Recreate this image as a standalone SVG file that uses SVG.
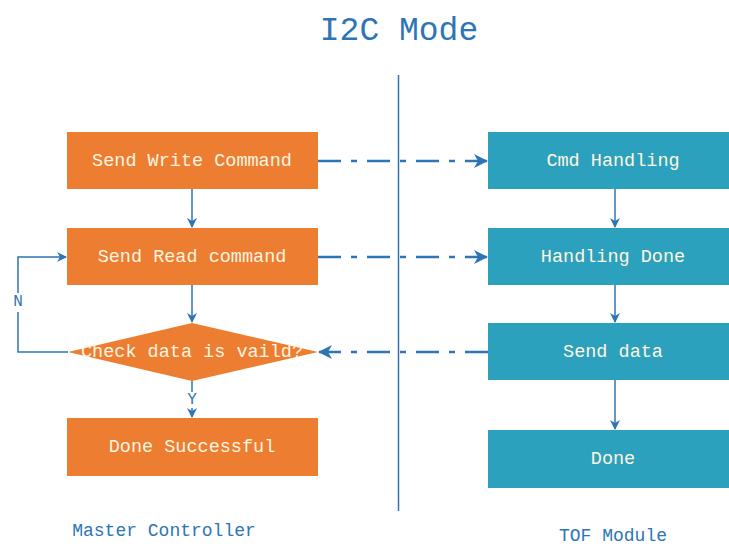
<svg xmlns="http://www.w3.org/2000/svg" width="729" height="546" viewBox="0 0 729 546">
<style>
.o{fill:#ED7D31}
.t{fill:#2CA1BE}
.lbl{font-family:"Liberation Mono","DejaVu Sans Mono",monospace;font-size:18.5px;fill:#FFF5E0;text-anchor:middle;dominant-baseline:central}
.ln{stroke:#2E75B6;stroke-width:1.5;fill:none}
.dd{stroke:#2E75B6;stroke-width:2.5;fill:none;stroke-dasharray:23 10 6 10}
.cap{font-family:"Liberation Mono","DejaVu Sans Mono",monospace;fill:#2E75B6}
</style>
<defs>
<marker id="a" markerWidth="10" markerHeight="10" refX="9" refY="5" orient="auto" markerUnits="userSpaceOnUse">
<path d="M0,0 L10,5 L0,10 L3,5 Z" fill="#2E75B6"/>
</marker>
<marker id="b" markerWidth="14" markerHeight="14" refX="13" refY="7" orient="auto" markerUnits="userSpaceOnUse">
<path d="M0,0 L14,7 L0,14 L4,7 Z" fill="#2E75B6"/>
</marker>
</defs>
<rect width="729" height="546" fill="#fff"/>
<text class="cap" x="399" y="40" font-size="33" text-anchor="middle">I2C Mode</text>
<line x1="398.5" y1="75" x2="398.5" y2="511" stroke="#2E75B6" stroke-width="1.5"/>
<text class="cap" x="164" y="536" font-size="18" text-anchor="middle">Master Controller</text>
<text class="cap" x="613" y="541" font-size="18" text-anchor="middle">TOF Module</text>

<g id="connectors">
<line class="ln" x1="192" y1="189" x2="192" y2="227" marker-end="url(#a)"/>
<line class="ln" x1="192" y1="285" x2="192" y2="322" marker-end="url(#a)"/>
<line class="ln" x1="192" y1="381" x2="192" y2="392"/>
<line class="ln" x1="192" y1="408" x2="192" y2="417" marker-end="url(#a)"/>
<polyline class="ln" points="68,352 18,352 18,312"/>
<polyline class="ln" points="18,293 18,257 66,257" marker-end="url(#a)"/>
<text class="cap" x="18" y="302" font-size="16" text-anchor="middle" dominant-baseline="central">N</text>
<text class="cap" x="192" y="400" font-size="16" text-anchor="middle" dominant-baseline="central">Y</text>
<line class="ln" x1="615" y1="189" x2="615" y2="227" marker-end="url(#a)"/>
<line class="ln" x1="615" y1="285" x2="615" y2="322" marker-end="url(#a)"/>
<line class="ln" x1="615" y1="380" x2="615" y2="429" marker-end="url(#a)"/>
<line class="dd" x1="318" y1="161" x2="487" y2="161" marker-end="url(#b)"/>
<line class="dd" x1="318" y1="257" x2="487" y2="257" marker-end="url(#b)"/>
<line class="dd" x1="488" y1="352" x2="319" y2="352" marker-end="url(#b)"/>
</g>

<g id="send-write"><rect class="o" x="67" y="132" width="251" height="57"/><text class="lbl" x="192" y="161">Send Write Command</text></g>
<g id="send-read"><rect class="o" x="67" y="228" width="251" height="57"/><text class="lbl" x="192" y="257">Send Read command</text></g>
<g id="check"><polygon class="o" points="192,323 318,352 192,381 68,352"/><text class="lbl" x="192" y="352">Check data is vaild?</text></g>
<g id="done-ok"><rect class="o" x="67" y="418" width="251" height="58"/><text class="lbl" x="192" y="447">Done Successful</text></g>

<g id="cmd-handling"><rect class="t" x="488" y="132" width="241" height="57"/><text class="lbl" x="613" y="161">Cmd Handling</text></g>
<g id="handling-done"><rect class="t" x="488" y="228" width="241" height="57"/><text class="lbl" x="613" y="257">Handling Done</text></g>
<g id="send-data"><rect class="t" x="488" y="323" width="241" height="57"/><text class="lbl" x="613" y="352">Send data</text></g>
<g id="done"><rect class="t" x="488" y="430" width="241" height="58"/><text class="lbl" x="613" y="459">Done</text></g>
</svg>
